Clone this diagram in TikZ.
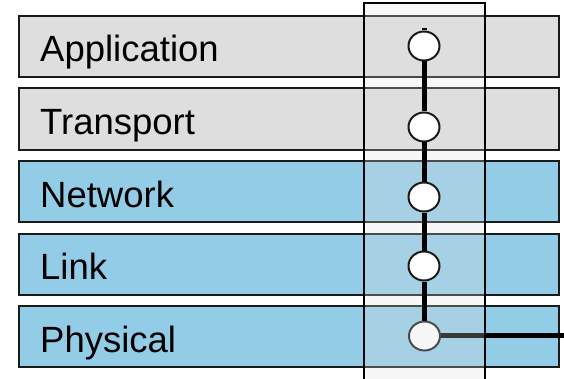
\documentclass[tikz,border=0pt]{standalone}
\usepackage{fontspec}
\setmainfont{Liberation Sans}
\usetikzlibrary{calc,shapes.geometric}
\definecolor{layergray}{HTML}{DEDEDE}
\definecolor{layerblue}{HTML}{93CCE6}
\definecolor{veil}{HTML}{E0E0E0}
\definecolor{edge}{HTML}{1A1A1A}
\tikzset{
  layer/.style={draw=edge, line width=2pt, minimum width=540pt, minimum height=61pt, inner sep=0pt},
  lbl/.style={anchor=base west, inner sep=0pt, font=\fontsize{36.5}{40}\selectfont},
  hop/.style={draw=edge, fill=white, line width=2pt, ellipse, minimum width=31pt, minimum height=29pt, inner sep=0pt},
  wire/.style={line width=5pt, black},
  column/.style={draw=black, line width=2pt, fill=veil, fill opacity=0.25}
}
\begin{document}
\begin{tikzpicture}[x=1pt,y=1pt]
\useasboundingbox (0,0) rectangle (564,378);
\clip (0,0) rectangle (564,378);
% protocol layers
\node[layer, fill=layergray] (app) at (289,331.5) {};
\node[layer, fill=layergray] (trn) at (289,259) {};
\node[layer, fill=layerblue] (net) at (289,186.5) {};
\node[layer, fill=layerblue] (lnk) at (289,114) {};
\node[layer, fill=layerblue] (phy) at (289,41.5) {};
\node[lbl] (tapp) at ($(app.west)+(22,-15.5)$) {Application};
\node[lbl] (ttrn) at ($(trn.west)+(22,-15.5)$) {Transport};
\node[lbl] (tnet) at ($(net.west)+(22,-15.5)$) {Network};
\node[lbl] (tlnk) at ($(lnk.west)+(22,-15.5)$) {Link};
\node[lbl] (tphy) at ($(phy.west)+(22,-15.5)$) {Physical};
% physical attachment, underneath the column
\coordinate (out) at (570,43);
\draw[wire] (425,43) -- (out);
\node[hop] (c5) at (424.5,42) {};
% host column
\node[column, minimum width=121pt, minimum height=390pt, inner sep=0pt] (col) at (424.5,180) {};
% stack path
\node[hop] (c1) at (424,332) {};
\node[hop] (c2) at (424,251) {};
\node[hop] (c3) at (424,181) {};
\node[hop] (c4) at (424,112) {};
\coordinate (top) at (424,350);
\draw[wire] (top) -- (c1.north);
\draw[wire] (c1.south) -- (c2.north);
\draw[wire] (c2.south) -- (c3.north);
\draw[wire] (c3.south) -- (c4.north);
\draw[wire] (c4.south) -- (c4.south |- c5.north);
\end{tikzpicture}
\end{document}
